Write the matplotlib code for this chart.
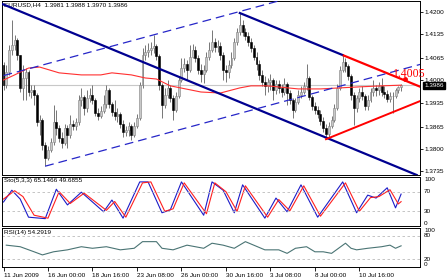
import numpy as np
import matplotlib.pyplot as plt
from matplotlib.transforms import blended_transform_factory

plt.rcParams['font.family'] = ['Liberation Sans', 'DejaVu Sans']

# EURUSD H4 candles, prices x 10000 (open of each bar = close of the previous one)
first_open = 14045
close = [13986, 14024, 14089, 14103, 14118, 14074, 13978, 14007, 14024, 13966,
         13972, 13957, 13878, 13884, 13811, 13773, 13796, 13820, 13878, 13861,
         13831, 13817, 13861, 13840, 13872, 13867, 13878, 13943, 13951, 13919,
         13948, 13957, 13943, 13904, 13896, 13910, 13931, 13972, 13931, 13907,
         13896, 13901, 13872, 13849, 13855, 13867, 13840, 13867, 13890, 13986,
         14074, 14083, 14089, 14095, 14100, 14071, 13986, 13928, 13957, 13978,
         13948, 13913, 13954, 14001, 14036, 14048, 14030, 14068, 14089, 14065,
         14030, 14019, 14030, 14068, 14089, 14112, 14098, 14100, 14074, 14030,
         14024, 14045, 14065, 14112, 14141, 14162, 14141, 14130, 14112, 14095,
         14068, 14048, 14016, 13995, 13984, 13995, 14001, 13972, 13989, 13978,
         13966, 13989, 13963, 13943, 13913, 13937, 13957, 13966, 13984, 14007,
         13951, 13925, 13913, 13901, 13881, 13861, 13843, 13867, 13884, 13919,
         13978, 14030, 14054, 14042, 14013, 13957, 13919, 13948, 13966, 13954,
         13925, 13943, 13966, 13978, 13972, 13984, 13966, 13960, 13945, 13954,
         13954, 13972, 13981, 13986]
high = [14054, 14045, 14103, 14177, 14133, 14124, 14074, 14045, 14036, 14030,
        13986, 13986, 13963, 13899, 13890, 13820, 13808, 13831, 13928, 13913,
        13869, 13849, 13872, 13869, 13899, 13884, 13890, 13957, 13978, 13957,
        13972, 13978, 13986, 13948, 13919, 13925, 13957, 13986, 13978, 13937,
        13943, 13919, 13907, 13884, 13867, 13878, 13872, 13878, 13901, 13995,
        14095, 14103, 14109, 14112, 14133, 14106, 14077, 13992, 13978, 14001,
        13986, 13957, 13966, 14013, 14065, 14065, 14060, 14103, 14106, 14100,
        14074, 14048, 14045, 14083, 14112, 14147, 14124, 14118, 14112, 14083,
        14045, 14060, 14083, 14124, 14153, 14197, 14177, 14153, 14141, 14124,
        14103, 14083, 14060, 14030, 14013, 14007, 14019, 14007, 14001, 14001,
        13989, 14007, 13995, 13972, 13948, 13948, 13972, 13984, 13995, 14048,
        14013, 13957, 13937, 13925, 13913, 13893, 13872, 13878, 13896, 13931,
        13989, 14042, 14074, 14065, 14048, 14019, 13966, 13957, 13978, 13984,
        13960, 13957, 13978, 14001, 13986, 13995, 14007, 13984, 13972, 13966,
        13966, 13978, 13984, 13988]
low = [13972, 13978, 14016, 14074, 14089, 14060, 13966, 13943, 13943, 13954,
       13948, 13928, 13867, 13840, 13796, 13749, 13767, 13790, 13811, 13840,
       13820, 13802, 13811, 13802, 13831, 13855, 13855, 13869, 13925, 13899,
       13907, 13937, 13931, 13896, 13884, 13890, 13904, 13919, 13919, 13896,
       13884, 13878, 13861, 13834, 13837, 13837, 13826, 13834, 13861, 13884,
       13978, 14060, 14068, 14074, 14080, 14060, 13972, 13890, 13919, 13948,
       13937, 13884, 13907, 13948, 13995, 14024, 14001, 14024, 14065, 14054,
       14019, 13995, 13992, 14024, 14060, 14083, 14083, 14083, 14060, 14001,
       13995, 14007, 14036, 14060, 14103, 14133, 14130, 14118, 14100, 14083,
       14060, 14030, 14001, 13984, 13957, 13966, 13972, 13943, 13960, 13963,
       13951, 13957, 13928, 13931, 13890, 13907, 13931, 13948, 13960, 13972,
       13943, 13913, 13901, 13890, 13869, 13849, 13828, 13834, 13861, 13878,
       13913, 13972, 14024, 14024, 14001, 13943, 13869, 13907, 13937, 13943,
       13913, 13913, 13937, 13954, 13954, 13957, 13954, 13948, 13937, 13937,
       13904, 13948, 13963, 13970]

# moving average (red), read at a few bars
ma_bar = [0, 4, 9, 13, 20, 28, 35, 39, 46, 51, 55, 60, 71, 78, 85, 89, 95, 106, 114, 121, 128, 136, 143]
ma_val = [14001, 14016, 14036, 14039, 14022, 14016, 14016, 14022, 14016, 14007, 14004, 13984,
          13966, 13963, 13978, 13984, 13984, 13975, 13975, 13978, 13981, 13984, 13986]

# trend lines: (bar, price x 10000)
chan_down = [(0, 14222), (143, 13742)]
top_down = [(85, 14197), (122, 14074)]
red_top = [(122, 14074), (150, 13981)]
red_bottom = [(116, 13828), (150, 13940)]
dash_low = [(15, 13749), (150, 14047)]
dash_high = [(0, 14014), (150, 14345)]
mark_bar, mark_price = 144.4, 14004

# Stochastic (5,3,3)
sto_bar = [0, 3, 6, 9, 15, 19, 23, 28, 36, 39, 43, 49, 52, 57, 60, 64, 72, 75, 79, 83, 86,
           94, 98, 102, 107, 113, 122, 127, 131, 134, 138, 141, 143]
sto_main = [49, 73, 55, 18, 15, 75, 43, 69, 29, 53, 16, 90, 90, 27, 33, 90, 22, 90, 73, 27, 84,
            16, 57, 29, 84, 18, 90, 27, 63, 57, 78, 37, 65.1]
sig_bar = [0, 4, 7, 11, 16, 20, 24, 29, 37, 40, 44, 50, 53, 58, 61, 65, 73, 76, 80, 84, 87,
           95, 99, 103, 108, 114, 123, 128, 132, 135, 139, 142, 143]
sto_sig = [55, 72, 60, 22, 16, 70, 46, 67, 32, 50, 18, 88, 90, 30, 35, 88, 25, 88, 70, 30, 82,
           18, 54, 31, 82, 20, 88, 30, 58, 60, 74, 45, 49.7]

# RSI(14)
rsi_bar = [1, 6, 11, 14, 18, 23, 28, 32, 37, 42, 47, 50, 55, 57, 61, 66, 72, 75, 79, 83, 87,
           90, 94, 99, 102, 105, 109, 112, 115, 118, 123, 125, 127, 131, 136, 139, 141, 143]
rsi_val = [56, 52, 39, 31, 39, 44, 52, 48, 52, 44, 48, 65, 65, 48, 44, 56, 48, 61, 56, 48, 65,
           56, 44, 44, 35, 48, 52, 39, 39, 35, 61, 48, 44, 48, 52, 56, 48, 54.3]

tick_bars = [0, 16, 32, 48, 64, 80, 96, 112, 128]
tick_text = ['11 Jun 2009', '16 Jun 00:00', '18 Jun 16:00', '23 Jun 08:00', '26 Jun 00:00',
             '30 Jun 16:00', '3 Jul 08:00', '8 Jul 00:00', '10 Jul 16:00']
price_ticks = [1.4200, 1.4135, 1.4065, 1.4000, 1.3935, 1.3865, 1.3800, 1.3735]

W, H = 448, 280
fig = plt.figure(figsize=(W / 100, H / 100), dpi=100)


def box(x0, y0, x1, y1):
    return [x0 / W, 1 - y1 / H, (x1 - x0) / W, (y1 - y0) / H]


ax = fig.add_axes(box(2, 1, 420, 175))
ax_sto = fig.add_axes(box(2, 177, 420, 226), sharex=ax)
ax_rsi = fig.add_axes(box(2, 228, 420, 267), sharex=ax)

c = np.array(close) / 1e4
hi = np.array(high) / 1e4
lo = np.array(low) / 1e4
o = np.r_[first_open / 1e4, c[:-1]]
x = np.arange(len(c))
up = c >= o

ax.axhline(1.3986, color='#c8c8c8', lw=0.8, zorder=1)
ax.vlines(x, lo, hi, color='#606060', lw=0.6, zorder=2)
body = np.maximum(np.abs(c - o), 0.00004)
ax.bar(x[up], body[up], bottom=o[up], width=0.7, color='#c8c8c8', edgecolor='#808080', lw=0.4, zorder=3)
ax.bar(x[~up], body[~up], bottom=c[~up], width=0.7, color='black', edgecolor='black', lw=0.4, zorder=3)

ax.plot(ma_bar, np.array(ma_val) / 1e4, color='#ff3030', lw=0.8, zorder=4)


def seg(pts, **kw):
    (x1, y1), (x2, y2) = pts
    ax.plot([x1, x2], [y1 / 1e4, y2 / 1e4], **kw)


(p1, p2) = chan_down
ax.axline((p1[0], p1[1] / 1e4), (p2[0], p2[1] / 1e4), color='#000090', lw=1.6, zorder=5)
seg(top_down, color='#000090', lw=1.6, zorder=5)
seg(red_top, color='#ff0000', lw=1.6, zorder=5, solid_capstyle='butt')
seg(red_bottom, color='#ff0000', lw=1.4, zorder=5)
seg(dash_low, color='#2626c8', lw=0.9, ls=(0, (7, 4)), zorder=5)
seg(dash_high, color='#2626c8', lw=0.9, ls=(0, (7, 4)), zorder=5)
ax.plot(mark_bar, mark_price / 1e4, 'o', color='#ff0000', ms=2.5, zorder=6)
ax.text(140.2, 1.4019, '1.4005', color='#ff0000', fontsize=8.5, family='Liberation Serif',
        va='center', ha='left', zorder=7)

ax.set_xlim(-0.54, 149.8)
ax.set_ylim(1.37232, 1.42322)
ax.yaxis.tick_right()
ax.set_yticks(price_ticks)
ax.set_yticklabels(['%.4f' % p for p in price_ticks])
ax.tick_params(axis='y', length=2, width=0.6, pad=1.5, labelsize=4.6)
ax.tick_params(axis='x', bottom=False, labelbottom=False)
ax.text(0.004, 0.992, 'EURUSD,H4  1.3981 1.3988 1.3970 1.3986', transform=ax.transAxes,
        va='top', ha='left', fontsize=4.6)
ax.annotate('1.3986', xy=(1.0, 1.3986), xycoords=('axes fraction', 'data'),
            xytext=(3, 0), textcoords='offset points', va='center', ha='left',
            fontsize=4.6, color='white',
            bbox=dict(boxstyle='square,pad=0.15', fc='black', ec='black'),
            annotation_clip=False)

# stochastic panel
ax_sto.plot(sto_bar, sto_main, color='#1c1cc8', lw=0.8)
ax_sto.plot(sig_bar, sto_sig, color='#ff2020', lw=0.8)
for lv in (70, 30):
    ax_sto.axhline(lv, color='#bcbcbc', lw=0.6, ls=(0, (3, 3)))
ax_sto.set_ylim(0, 100)
ax_sto.set_yticks([])
ax_sto.tick_params(axis='x', bottom=False, labelbottom=False)
ax_sto.text(0.004, 0.97, 'Sto(5,3,3) 65.1466 49.6855', transform=ax_sto.transAxes,
            va='top', ha='left', fontsize=4.6)
tr = blended_transform_factory(ax_sto.transAxes, ax_sto.transData)
for lv, va in ((100, 'top'), (70, 'center'), (30, 'center'), (0, 'bottom')):
    ax_sto.text(1.01, lv, str(lv), transform=tr, va=va, ha='left', fontsize=4.6)

# RSI panel
ax_rsi.plot(rsi_bar, rsi_val, color='#4a7474', lw=0.8)
for lv in (80, 20):
    ax_rsi.axhline(lv, color='#bcbcbc', lw=0.6, ls=(0, (3, 3)))
ax_rsi.set_ylim(0, 100)
ax_rsi.set_yticks([])
ax_rsi.text(0.004, 0.96, 'RSI(14) 54.2919', transform=ax_rsi.transAxes,
            va='top', ha='left', fontsize=4.6)
tr = blended_transform_factory(ax_rsi.transAxes, ax_rsi.transData)
for lv, va in ((100, 'top'), (80, 'center'), (20, 'center'), (0, 'bottom')):
    ax_rsi.text(1.01, lv, str(lv), transform=tr, va=va, ha='left', fontsize=4.6)

ax_rsi.set_xticks(tick_bars)
ax_rsi.set_xticklabels(tick_text, ha='left')
ax_rsi.tick_params(axis='x', length=3, width=0.6, pad=1.5, labelsize=4.6)

for a in (ax, ax_sto, ax_rsi):
    for s in a.spines.values():
        s.set_linewidth(0.7)

fig.savefig('out.png', dpi=100)
